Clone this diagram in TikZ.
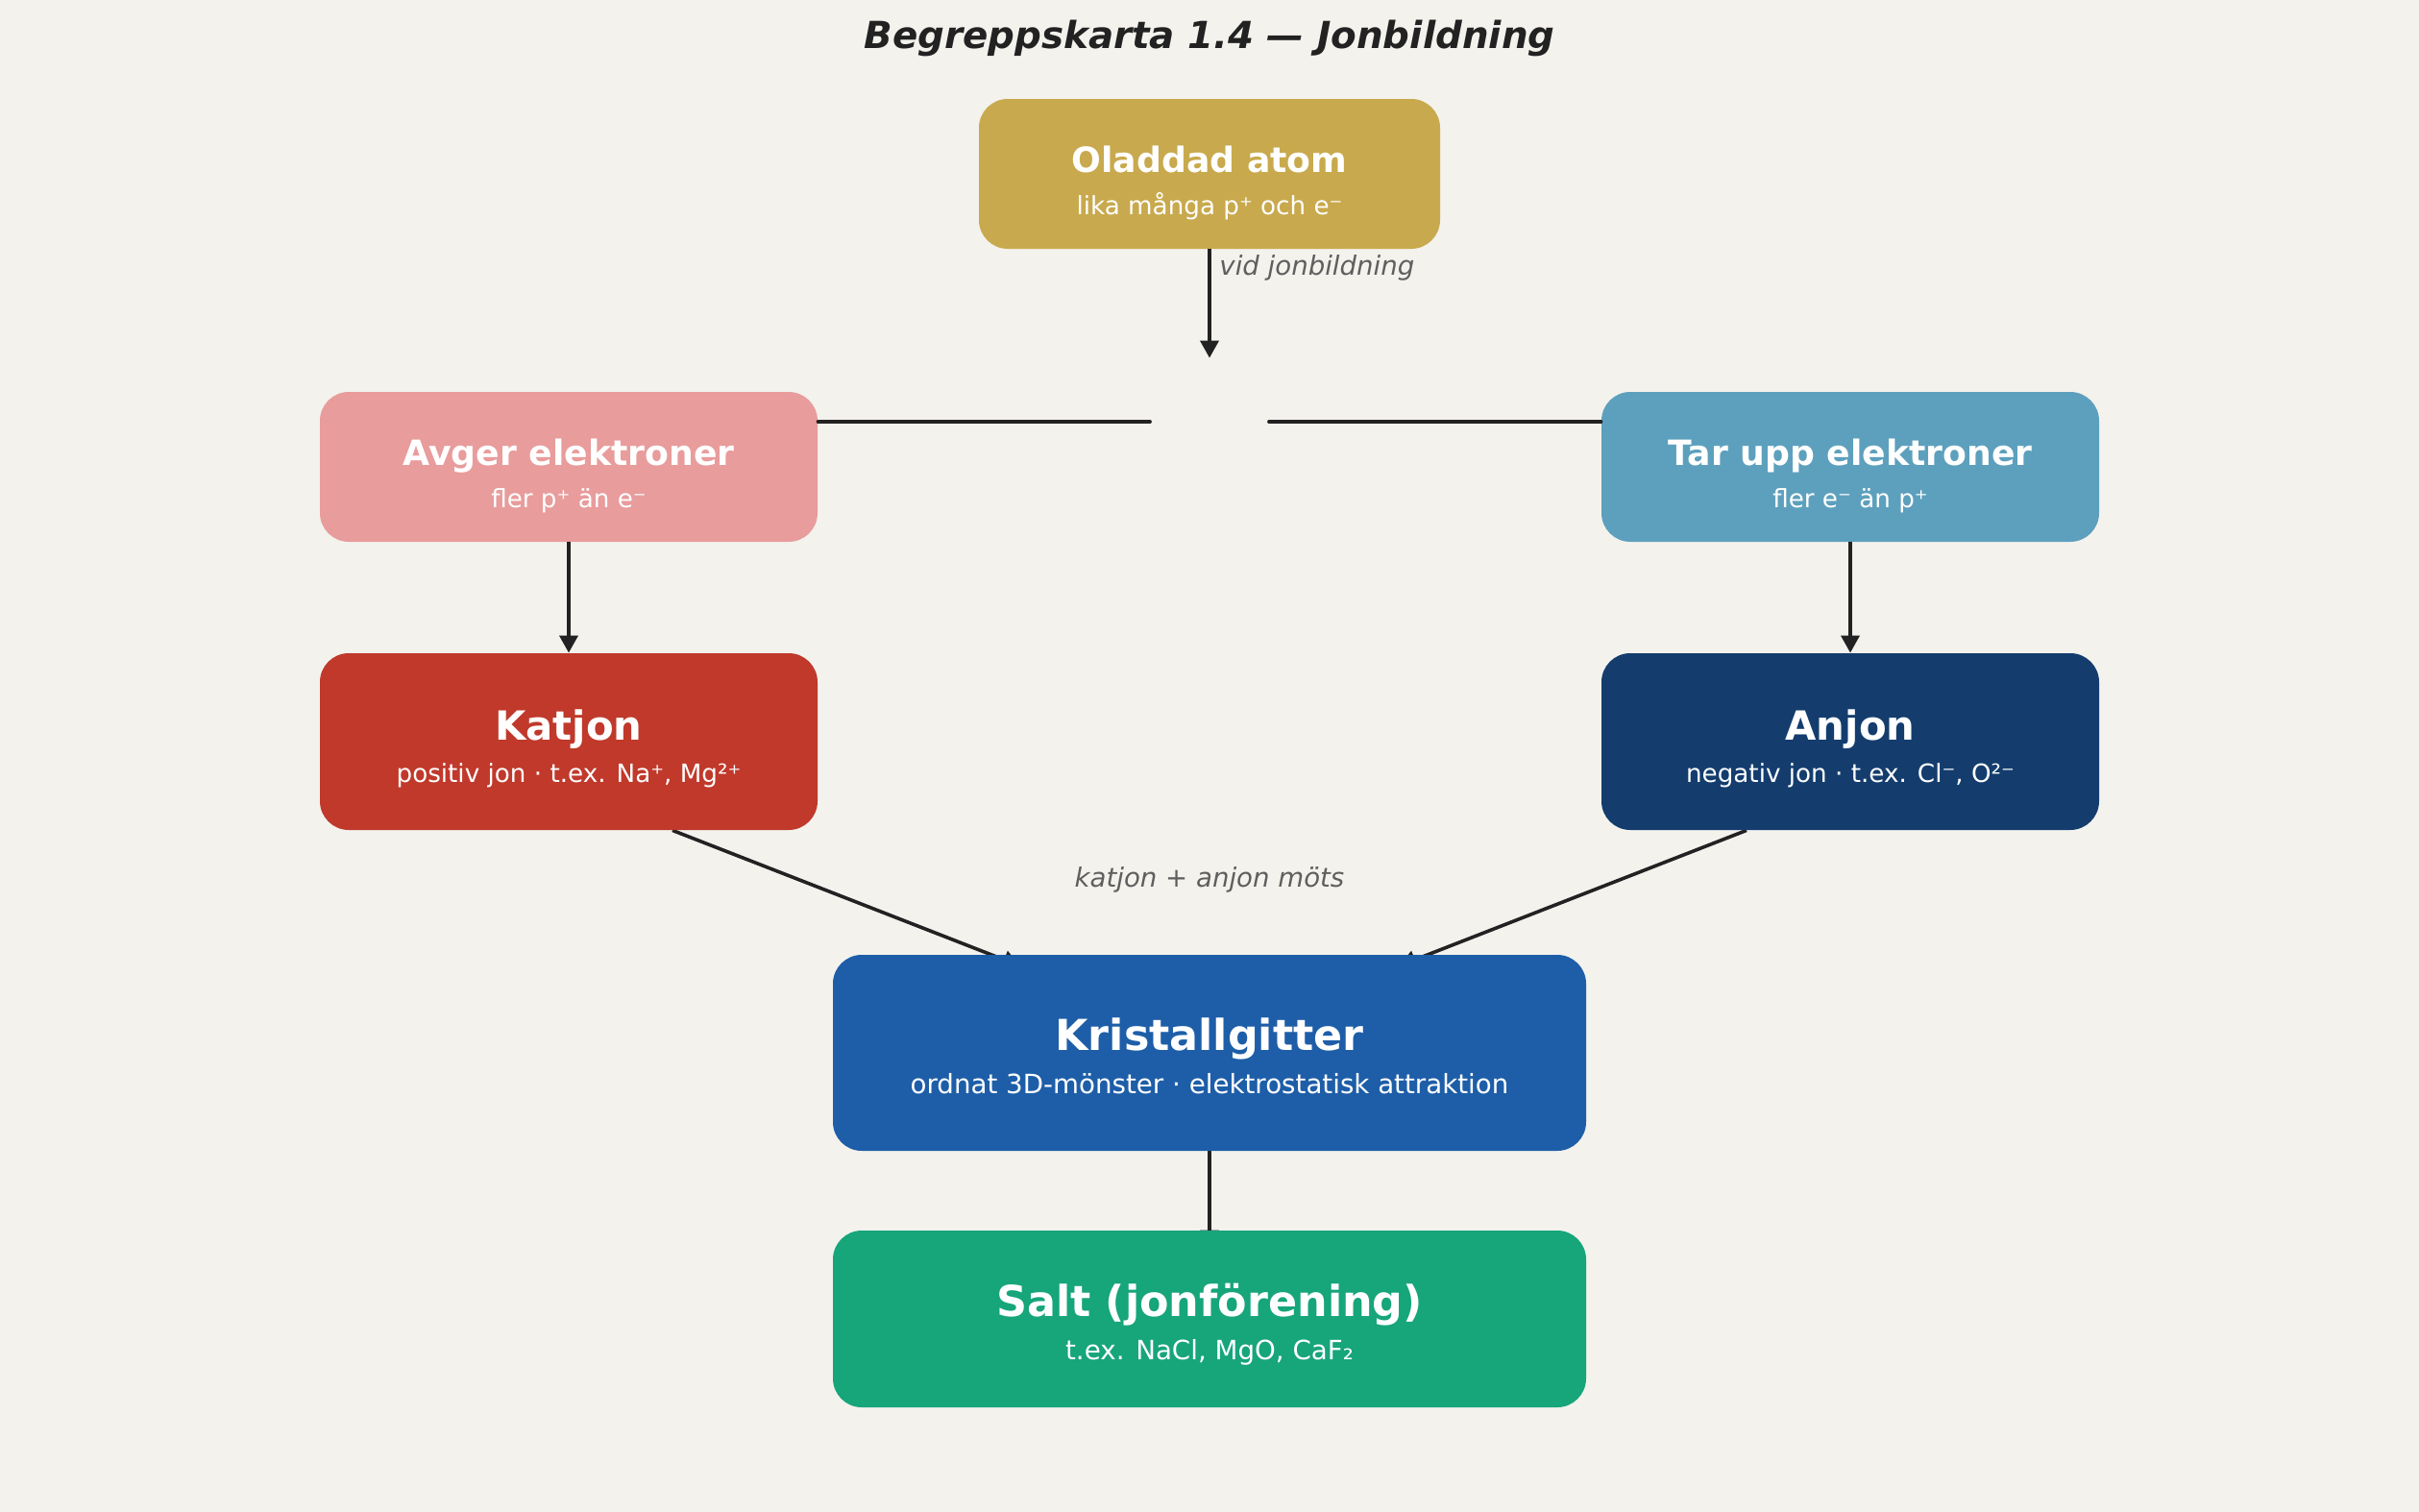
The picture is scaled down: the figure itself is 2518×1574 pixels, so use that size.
\documentclass[tikz,border=0pt]{standalone}
\usepackage{fontspec}
\setmainfont{DejaVu Sans}
\usetikzlibrary{arrows.meta,calc}
\definecolor{bgc}{HTML}{F3F2ED}
\definecolor{cOlad}{HTML}{C8A94D}
\definecolor{cAvger}{HTML}{E89C9C}
\definecolor{cTar}{HTML}{5DA0BD}
\definecolor{cKat}{HTML}{C0392B}
\definecolor{cAnj}{HTML}{143D6E}
\definecolor{cKri}{HTML}{1E5EA8}
\definecolor{cSalt}{HTML}{17A57A}
\definecolor{linec}{HTML}{222222}
\definecolor{lblc}{HTML}{5F5F5F}
\definecolor{titlec}{HTML}{222222}
\pgfdeclarelayer{bg}
\pgfsetlayers{bg,main}
\tikzset{
  box/.style={rectangle, rounded corners=15pt, inner sep=0pt, draw=none},
  ttl/.style={text=white, anchor=base, inner sep=0pt, font=\bfseries\fontsize{18.1}{21}\selectfont},
  ttlbig/.style={text=white, anchor=base, inner sep=0pt, font=\bfseries\fontsize{20.9}{24}\selectfont},
  ttlhuge/.style={text=white, anchor=base, inner sep=0pt, font=\bfseries\fontsize{22.2}{25}\selectfont},
  subt/.style={text=white, anchor=base, inner sep=0pt, font=\fontsize{13.1}{15}\selectfont},
  subtbig/.style={text=white, anchor=base, inner sep=0pt, font=\fontsize{13.85}{16}\selectfont},
  arr/.style={draw=linec, line width=1.8pt, -{Triangle[length=9pt,width=9.5pt]}},
  conn/.style={draw=linec, line width=1.8pt, line cap=round},
  lbl/.style={text=lblc, inner sep=0pt, font=\itshape\fontsize{13.8}{16}\selectfont},
}
\begin{document}
\begin{tikzpicture}[x=0.5pt,y=-0.5pt]
\begin{pgfonlayer}{bg}
\fill[bgc] (0,0) rectangle (2518,1574);
\end{pgfonlayer}
\useasboundingbox (0,0) rectangle (2518,1574);

\node[font=\bfseries\itshape\fontsize{19.4}{22}\selectfont, text=titlec] (title) at (1259,40) {Begreppskarta 1.4 — Jonbildning};

% boxes
\node[box, fill=cOlad, minimum width=240pt, minimum height=78pt] (olad) at (1259,181) {};
\node[box, fill=cAvger, minimum width=259pt, minimum height=78pt] (avger) at (592,486) {};
\node[box, fill=cTar, minimum width=259pt, minimum height=78pt] (tarupp) at (1926,486) {};
\node[box, fill=cKat, minimum width=259pt, minimum height=92pt] (katjon) at (592,772) {};
\node[box, fill=cAnj, minimum width=259pt, minimum height=92pt] (anjon) at (1926,772) {};
\node[box, fill=cKri, minimum width=392pt, minimum height=102pt] (kristall) at (1259,1096) {};
\node[box, fill=cSalt, minimum width=392pt, minimum height=92pt] (salt) at (1259,1373) {};

% texts
\node[ttl] (olad-t) at ($(olad.center)+(0,-2)$) {Oladdad atom};
\node[subt] (olad-s) at ($(olad.center)+(0,42)$) {lika många p⁺ och e⁻};
\node[ttl] (avger-t) at ($(avger.center)+(0,-2)$) {Avger elektroner};
\node[subt] (avger-s) at ($(avger.center)+(0,42)$) {fler p⁺ än e⁻};
\node[ttl] (tarupp-t) at ($(tarupp.center)+(0,-2)$) {Tar upp elektroner};
\node[subt] (tarupp-s) at ($(tarupp.center)+(0,42)$) {fler e⁻ än p⁺};
\node[ttlbig] (katjon-t) at ($(katjon.center)+(0,-2)$) {Katjon};
\node[subt] (katjon-s) at ($(katjon.center)+(0,42)$) {positiv jon · t.ex. Na⁺, Mg²⁺};
\node[ttlbig] (anjon-t) at ($(anjon.center)+(0,-2)$) {Anjon};
\node[subt] (anjon-s) at ($(anjon.center)+(0,42)$) {negativ jon · t.ex. Cl⁻, O²⁻};
\node[ttlhuge] (kristall-t) at ($(kristall.center)+(0,-3)$) {Kristallgitter};
\node[subtbig] (kristall-s) at ($(kristall.center)+(0,42)$) {ordnat 3D-mönster · elektrostatisk attraktion};
\node[ttlhuge] (salt-t) at ($(salt.center)+(0,-3)$) {Salt (jonförening)};
\node[subtbig] (salt-s) at ($(salt.center)+(0,42)$) {t.ex. NaCl, MgO, CaF₂};

% junction (blank)
\node[inner sep=0pt, minimum width=61.5pt, minimum height=66pt] (jn) at (1259,439) {};

% labels
\node[lbl, anchor=west] (lbl-jon) at ($(olad.south)+(10,19)$) {vid jonbildning};
\node[lbl] (lbl-mot) at ($(kristall.north)+(0,-78)$) {katjon + anjon möts};

% connectors
\draw[arr] (olad.south) -- (jn.north);
\draw[conn] (jn.west) -- (jn.west -| avger.east);
\draw[conn] (jn.east) -- (jn.east -| tarupp.west);
\draw[arr] (avger.south) -- (katjon.north);
\draw[arr] (tarupp.south) -- (anjon.north);
\begin{pgfonlayer}{bg}
\draw[arr] ($(katjon.south)+(108,0)$) -- ($(kristall.north)+(-197,12)$);
\draw[arr] ($(anjon.south)+(-108,0)$) -- ($(kristall.north)+(197,12)$);
\draw[arr, shorten >=-9pt] (kristall.south) -- (salt.north);
\end{pgfonlayer}
\end{tikzpicture}
\end{document}
